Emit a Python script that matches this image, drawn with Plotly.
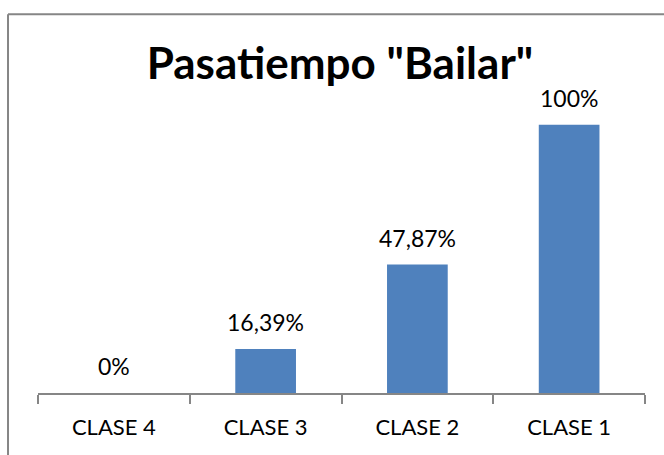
import plotly.graph_objects as go

categories = ["CLASE 4", "CLASE 3", "CLASE 2", "CLASE 1"]
values = [0.0, 0.1639, 0.4787, 1.0]
labels = ["0%", "16,39%", "47,87%", "100%"]

title_text = 'Pasatiempo "Bailar"'
bar_color = "#4F81BD"
axis_color = "#868686"
font_family = "Lato, Carlito, Calibri, sans-serif"

fig = go.Figure()
fig.add_trace(
    go.Bar(
        x=categories,
        y=values,
        marker=dict(color=bar_color, line=dict(width=0)),
        hoverinfo="skip",
    )
)

for cat, val, lab in zip(categories, values, labels):
    fig.add_annotation(
        x=cat,
        y=val,
        text=lab,
        showarrow=False,
        yanchor="bottom",
        yshift=11,
        font=dict(family=font_family, size=23, color="black"),
    )

# outer chart border (only top and left visible in the crop)
fig.add_shape(type="line", xref="paper", yref="paper",
              x0=-0.0494, x1=-0.0494, y0=-1, y1=1.176,
              line=dict(color=axis_color, width=2))
fig.add_shape(type="line", xref="paper", yref="paper",
              x0=-0.0494, x1=2, y0=1.176, y1=1.176,
              line=dict(color=axis_color, width=2))

fig.update_layout(
    width=664,
    height=455,
    margin=dict(l=38, r=19, t=71, b=62),
    paper_bgcolor="white",
    plot_bgcolor="white",
    bargap=0.6,
    showlegend=False,
    title=dict(
        text="<b>" + title_text + "</b>",
        x=0.512,
        xanchor="center",
        y=0.86,
        yanchor="middle",
        font=dict(family=font_family, size=44, color="black"),
    ),
    xaxis=dict(
        showline=True,
        linecolor=axis_color,
        linewidth=1.5,
        ticks="outside",
        tickson="boundaries",
        ticklen=9,
        tickcolor=axis_color,
        tickwidth=1.5,
        ticklabelstandoff=14,
        showgrid=False,
        tickfont=dict(family=font_family, size=22, color="black"),
    ),
    yaxis=dict(
        range=[0, 1.2],
        visible=False,
        showgrid=False,
        zeroline=False,
    ),
)

fig.write_html(
    "out.html",
    config={"displayModeBar": False},
    post_script="document.body.style.margin='0';",
)
